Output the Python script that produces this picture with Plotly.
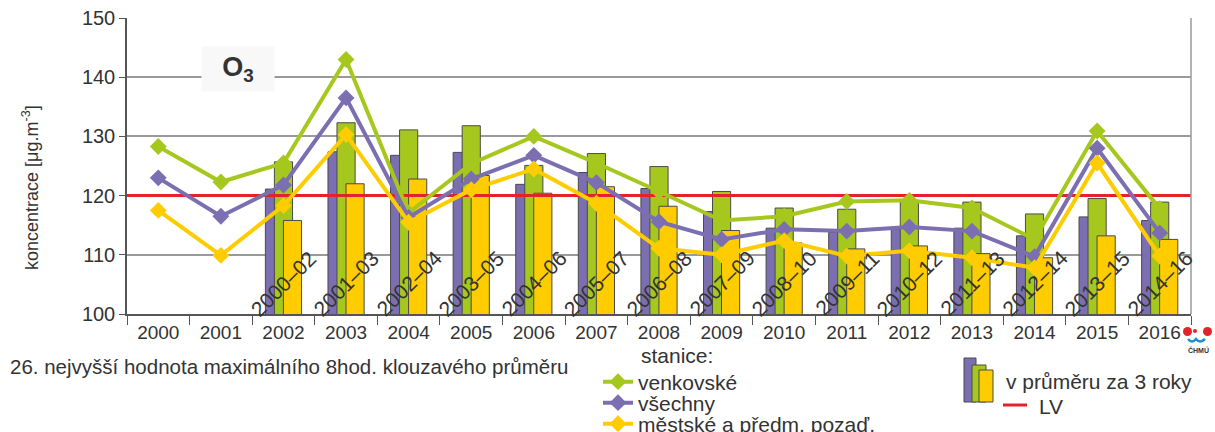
import plotly.graph_objects as go

# roční hodnoty (26. nejvyšší max. 8hod. klouzavý průměr O3)
years = list(range(2000, 2017))
venkovske = [128.3, 122.3, 125.5, 143.0, 117.1, 125.4, 130.0, 125.5, 120.7, 115.8,
             116.5, 119.0, 119.2, 117.9, 112.6, 130.9, 117.8]
vsechny = [123.0, 116.5, 121.8, 136.5, 116.3, 122.8, 126.8, 122.2, 115.6, 112.6,
           114.3, 114.0, 114.7, 114.0, 109.7, 128.0, 113.7]
mestske = [117.5, 109.9, 118.3, 130.3, 115.5, 121.0, 124.5, 118.7, 111.1, 110.0,
           112.4, 109.8, 110.7, 109.5, 107.8, 125.5, 109.8]

# tříleté průměry
bar_years = list(range(2002, 2017))
periods = ['2000–02', '2001–03', '2002–04', '2003–05', '2004–06', '2005–07', '2006–08',
           '2007–09', '2008–10', '2009–11', '2010–12', '2011–13', '2012–14', '2013–15',
           '2014–16']
bar_vsechny = [121.1, 127.4, 126.8, 127.3, 121.9, 123.9, 121.2, 117.3, 114.5, 113.8,
               114.3, 114.5, 113.2, 116.4, 115.8]
bar_venkovske = [125.7, 132.3, 131.1, 131.8, 125.1, 127.1, 124.9, 120.7, 117.9, 117.7,
                 119.0, 118.9, 116.9, 119.5, 118.9]
bar_mestske = [115.8, 122.0, 122.8, 123.4, 120.4, 121.5, 118.2, 114.1, 112.0, 111.0,
               111.5, 110.2, 109.5, 113.2, 112.6]

LV = 120

GREEN = '#a6c81e'
PURPLE = '#7b6fb1'
YELLOW = '#ffcc00'
RED = '#e3232c'
TEXT = '#333333'
FONT = 'Liberation Sans, Arial, sans-serif'

# plot area in pixels (used to place legend/notes below the chart)
L, R, T, B = 127, 1191, 18, 314


def px(x):
    return (x - L) / (R - L)


def py(y):
    return (B - y) / (B - T)


fig = go.Figure()

bw = 0.29
step = 0.144
for vals, color, off in [(bar_vsechny, PURPLE, -bw / 2 - step),
                         (bar_venkovske, GREEN, -bw / 2),
                         (bar_mestske, YELLOW, -bw / 2 + step)]:
    fig.add_trace(go.Bar(
        x=bar_years, y=vals, width=bw, offset=off,
        marker=dict(color=color, line=dict(color='#4a4a4a', width=1)),
        showlegend=False, hoverinfo='skip'))

# limitní hodnota
fig.add_trace(go.Scatter(
    x=[years[0] - 0.5, years[-1] + 0.5], y=[LV, LV], mode='lines',
    line=dict(color=RED, width=3), showlegend=False, hoverinfo='skip'))

for i, (vals, color, name) in enumerate([(venkovske, GREEN, 'venkovské'),
                                         (vsechny, PURPLE, 'všechny'),
                                         (mestske, YELLOW, 'městské a předm. pozaď.')]):
    fig.add_trace(go.Scatter(
        x=years, y=vals, mode='lines+markers', name=name,
        line=dict(color=color, width=4),
        marker=dict(symbol='diamond', size=13, color=color),
        legend='legend' if i == 0 else f'legend{i + 1}'))

annotations = []
for yr, lab in zip(bar_years, periods):
    annotations.append(dict(x=yr, y=105.2, text=lab, textangle=-45, showarrow=False,
                            font=dict(size=21, color=TEXT)))


def note(x, y, text, size=21, anchor='left', **kw):
    return dict(xref='paper', yref='paper', x=px(x), y=py(y), text=text, showarrow=False,
                xanchor=anchor, yanchor='middle', font=dict(size=size, color=TEXT), **kw)


annotations += [
    note(238, 69, '<b>O<sub>3</sub></b>', size=27, anchor='center',
         width=70, height=42, bgcolor='#f8f8f8'),
    note(30, 188, 'koncentrace [μg.m<sup>-3</sup>]', size=18, anchor='center', textangle=-90),
    note(8, 366, '26. nejvyšší hodnota maximálního 8hod. klouzavého průměru', size=20.5),
    note(639, 355, 'stanice:'),
    note(1004, 381, 'v průměru za 3 roky'),
    note(1037, 406, 'LV'),
    note(1198, 350, '<b>ČHMÚ</b>', size=7, anchor='center'),
]

shapes = [
    # right border of the plot area
    dict(type='line', xref='paper', yref='paper', x0=1, x1=1, y0=0, y1=1,
         line=dict(color='#9a9a9a', width=1.5)),
    # bar legend icon
    dict(type='rect', xref='paper', yref='paper', x0=px(964), x1=px(976), y0=py(402), y1=py(358),
         fillcolor=PURPLE, line=dict(color='#4a4a4a', width=1)),
    dict(type='rect', xref='paper', yref='paper', x0=px(972), x1=px(986), y0=py(402), y1=py(365),
         fillcolor=GREEN, line=dict(color='#4a4a4a', width=1)),
    dict(type='rect', xref='paper', yref='paper', x0=px(979), x1=px(993), y0=py(402), y1=py(370),
         fillcolor=YELLOW, line=dict(color='#4a4a4a', width=1)),
    dict(type='line', xref='paper', yref='paper', x0=px(1003), x1=px(1027), y0=py(405), y1=py(405),
         line=dict(color=RED, width=3)),
    # logo
    dict(type='circle', xref='paper', yref='paper', x0=px(1183), x1=px(1192), y0=py(336), y1=py(327),
         fillcolor='#e3232c', line=dict(width=0)),
    dict(type='circle', xref='paper', yref='paper', x0=px(1193), x1=px(1197), y0=py(333), y1=py(329),
         fillcolor='#e3232c', line=dict(width=0)),
    dict(type='circle', xref='paper', yref='paper', x0=px(1203), x1=px(1212), y0=py(336), y1=py(327),
         fillcolor='#e3232c', line=dict(width=0)),
]
wave = 'M {} {} Q {} {} {} {} Q {} {} {} {}'.format(
    px(1188), py(339), px(1192), py(344), px(1196), py(339),
    px(1200), py(344), px(1205), py(339))
shapes.append(dict(type='path', xref='paper', yref='paper', path=wave,
                   line=dict(color='#1e8fd6', width=2.5)))

legend_base = dict(xanchor='left', yanchor='middle', bgcolor='rgba(0,0,0,0)',
                   font=dict(size=21, color=TEXT, family=FONT), itemwidth=30)

fig.update_layout(
    width=1215, height=432,
    margin=dict(l=L, r=1215 - R, t=T, b=432 - B, autoexpand=False),
    paper_bgcolor='white', plot_bgcolor='white',
    font=dict(family=FONT, color=TEXT),
    barmode='overlay',
    showlegend=True,
    legend=dict(x=px(598), y=py(382), **legend_base),
    legend2=dict(x=px(598), y=py(403), **legend_base),
    legend3=dict(x=px(598), y=py(424), **legend_base),
    annotations=annotations,
    shapes=shapes,
)

fig.update_xaxes(
    range=[years[0] - 0.5, years[-1] + 0.5],
    tickmode='array', tickvals=years, ticktext=[str(y) for y in years],
    ticks='', showgrid=False, zeroline=False,
    showline=True, linecolor='#555555', linewidth=1.5,
    tickfont=dict(size=19, color=TEXT),
    minor=dict(tickmode='linear', tick0=years[0] - 0.5, dtick=1, ticks='outside',
               ticklen=9, tickcolor='#555555', tickwidth=1, showgrid=False),
)
fig.update_yaxes(
    range=[100, 150], dtick=10,
    showgrid=True, gridcolor='#9a9a9a', gridwidth=1.5, zeroline=False,
    showline=True, linecolor='#555555', linewidth=1.5,
    ticks='outside', ticklen=6, tickcolor='#555555',
    tickfont=dict(size=20, color=TEXT),
)

# page body has a default 8px margin; drop it so the figure fills the window
fig.write_html('out.html', config={'displayModeBar': False},
               post_script="document.body.style.margin='0';")
